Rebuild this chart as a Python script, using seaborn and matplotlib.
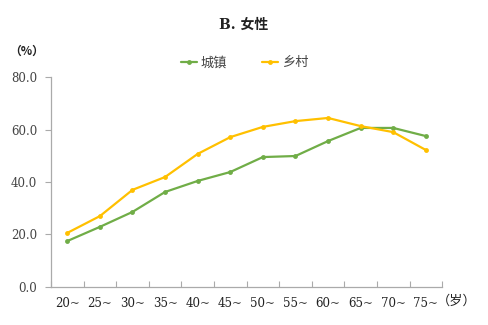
import numpy as np
import pandas as pd
import matplotlib
matplotlib.use("Agg")
import matplotlib.pyplot as plt
from matplotlib.ticker import FixedLocator, FormatStrFormatter
import seaborn as sns

categories = ["20~", "25~", "30~", "35~", "40~", "45~", "50~", "55~", "60~", "65~", "70~", "75~"]
urban = [17.5, 22.9, 28.6, 36.2, 40.4, 43.8, 49.5, 49.9, 55.6, 60.6, 60.6, 57.5]
rural = [20.6, 27.0, 37.0, 41.9, 50.7, 57.1, 61.0, 63.2, 64.4, 61.3, 59.0, 52.2]
series_names = ["城镇", "乡村"]
yticks = [0, 20, 40, 60, 80]

df = pd.DataFrame({
    "age": categories * 2,
    "value": urban + rural,
    "area": [series_names[0]] * len(categories) + [series_names[1]] * len(categories),
})

sns.set_theme(style="white")
plt.rcParams["font.family"] = ["DejaVu Serif", "Noto Sans CJK SC"]

fig = plt.figure(figsize=(4.88, 3.25), dpi=100)
ax = fig.add_axes([0.1045, 0.117, 0.8015, 0.646])

palette = {series_names[0]: "#70AD47", series_names[1]: "#FFC000"}
sns.lineplot(data=df, x="age", y="value", hue="area", palette=palette, marker="o",
             markersize=3.5, markeredgewidth=0, linewidth=1.6, ax=ax, sort=False)

n = len(categories)
ax.set_xlim(-0.5, n - 0.5)
ax.set_ylim(0, 80)
ax.set_yticks(yticks)
ax.yaxis.set_major_formatter(FormatStrFormatter("%.1f"))
ax.set_xticks(range(n))
ax.set_xticklabels(categories)
ax.xaxis.set_minor_locator(FixedLocator(np.arange(-0.5, n, 1.0)))
ax.tick_params(axis="x", which="major", length=0, pad=7, labelsize=8.5, labelcolor="#222222")
ax.tick_params(axis="x", which="minor", length=4, direction="in", color="#aaaaaa", width=0.8, bottom=True)
ax.tick_params(axis="y", which="major", length=4, direction="out", color="#aaaaaa", width=0.8,
               left=True, pad=6, labelsize=8.5, labelcolor="#444444")

for s in ["top", "right"]:
    ax.spines[s].set_visible(False)
for s in ["left", "bottom"]:
    ax.spines[s].set_color("#aaaaaa")
    ax.spines[s].set_linewidth(0.9)

ax.set_xlabel("")
ax.set_ylabel("")

ax.legend(loc="upper center", bbox_to_anchor=(0.495, 1.155), ncol=2, frameon=False,
          prop={"family": ["Noto Sans CJK SC"], "size": 9.5},
          handlelength=1.2, handletextpad=0.3, columnspacing=2.6,
          labelcolor="#444444")

fig.text(0.5, 0.925, "B. 女性", ha="center", va="center", fontsize=10, fontweight="bold", color="#222222")
fig.text(0.055, 0.843, "（%）", ha="center", va="center", fontsize=8.5, fontweight="bold", color="#222222",
         family=["Noto Sans CJK SC"])
fig.text(0.935, 0.072, "（岁）", ha="center", va="center", fontsize=9.5, color="#222222",
         family=["Noto Sans CJK SC"])

fig.savefig("out.png", dpi=100)
